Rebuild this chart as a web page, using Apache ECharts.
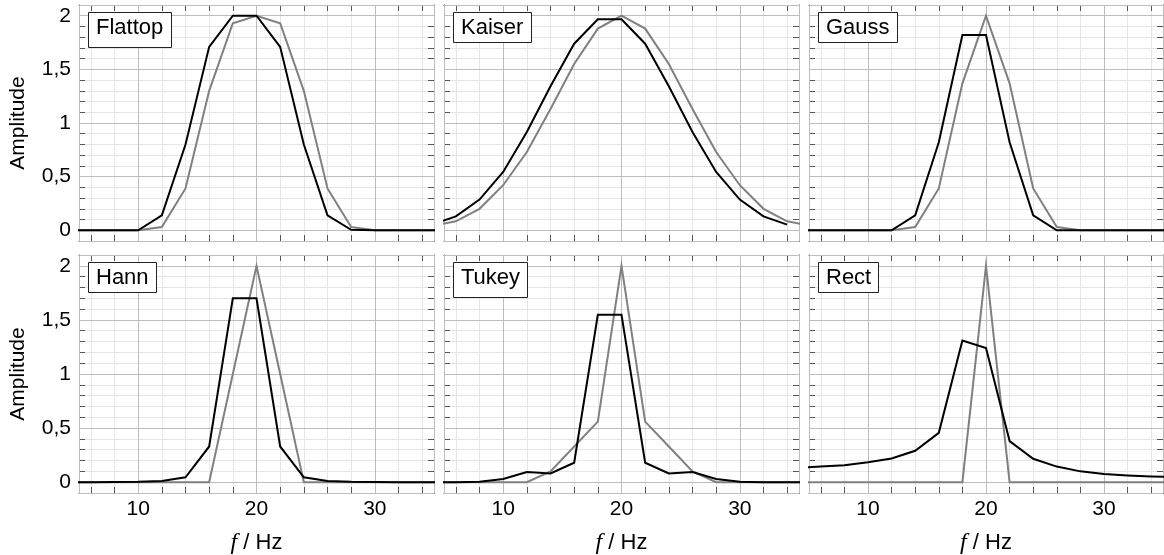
<!DOCTYPE html>
<html><head><meta charset="utf-8">
<script src="https://cdn.jsdelivr.net/npm/echarts@6/dist/echarts.min.js"></script>
<style>html,body{margin:0;padding:0;background:#fff}#c{width:1164px;height:555px}</style>
</head><body><div id="c"></div>
<script>
// frequency grid (Hz)
const freqs = [4, 6, 8, 10, 12, 14, 16, 18, 20, 22, 24, 26, 28, 30, 32, 34, 36];
const windowNames = ['Flattop', 'Kaiser', 'Gauss', 'Hann', 'Tukey', 'Rect'];

// black curves
const flattopBlack = [0, 0, 0, 0, 0.14, 0.80, 1.71, 2.0, 2.0, 1.71, 0.80, 0.14, 0.005, 0, 0, 0, 0];
const kaiserBlack  = [0.053, 0.13, 0.286, 0.543, 0.916, 1.342, 1.739, 1.966, 1.966, 1.739, 1.342, 0.916, 0.543, 0.286, 0.13, 0.053, null];
const gaussBlack   = [0, 0, 0, 0, 0, 0.14, 0.82, 1.82, 1.82, 0.82, 0.14, 0, 0, 0, 0, 0, 0];
const hannBlack    = [0, 0, 0.002, 0.004, 0.012, 0.045, 0.33, 1.70, 1.70, 0.33, 0.045, 0.012, 0.004, 0.002, 0, 0, 0];
const tukeyBlack   = [0, 0, 0.003, 0.03, 0.094, 0.08, 0.18, 1.547, 1.547, 0.18, 0.08, 0.094, 0.03, 0.003, 0, 0, 0];
const rectBlack    = [0.131, 0.144, 0.156, 0.184, 0.219, 0.29, 0.456, 1.31, 1.24, 0.38, 0.216, 0.144, 0.10, 0.075, 0.0625, 0.053, 0.047];

// gray curves
const flattopGray = [0, 0, 0, 0, 0.03, 0.39, 1.30, 1.93, 2.0, 1.93, 1.30, 0.39, 0.03, 0, 0, 0, 0];
const kaiserGray  = [0.04, 0.084, 0.2, 0.42, 0.73, 1.13, 1.55, 1.88, 2.0, 1.88, 1.55, 1.13, 0.73, 0.42, 0.2, 0.084, 0.04];
const gaussGray   = [0, 0, 0, 0, 0, 0.03, 0.39, 1.37, 2.0, 1.37, 0.39, 0.03, 0, 0, 0, 0, 0];
const hannGray    = [0, 0, 0, 0, 0, 0, 0, 1.0, 2.0, 1.0, 0, 0, 0, 0, 0, 0, 0];
const tukeyGray   = [0, 0, 0, 0, 0, 0.1, 0.33, 0.56, 2.0, 0.56, 0.33, 0.1, 0, 0, 0, 0, 0];
const rectGray    = [0, 0, 0, 0, 0, 0, 0, 0, 2.0, 0, 0, 0, 0, 0, 0, 0, 0];

// tick labels
const xTickValues = [10, 20, 30];
const xTickLabels = ['10', '20', '30'];
const yTickValues = [0, 0.5, 1, 1.5, 2];
const yTickLabels = ['0', '0,5', '1', '1,5', '2'];
const yAxisTitle = 'Amplitude';
const xAxisTitle = '{i|f} / Hz';

const blackSets = [flattopBlack, kaiserBlack, gaussBlack, hannBlack, tukeyBlack, rectBlack];
const graySets = [flattopGray, kaiserGray, gaussGray, hannGray, tukeyGray, rectGray];

const FONT = 'Liberation Sans';
const lefts = [79, 444, 809];
const widths = [355, 355, 354];
const tops = [5, 255];
const heights = [236, 238];
const minorC = '#e6e6e6';
const majorC = '#bdbdbd';
const frameLine = { show: true, onZero: false, lineStyle: { color: '#3c3c3c', width: 1 } };
const tickStyle = { show: true, inside: true, length: 6, lineStyle: { color: '#555', width: 1 } };

const grids = [], xAxes = [], yAxes = [], series = [], titles = [];
function pick(vals, labels, v) {
  for (let i = 0; i < vals.length; i++) if (Math.abs(vals[i] - v) < 1e-6) return labels[i];
  return '';
}
for (let k = 0; k < 6; k++) {
  const r = Math.floor(k / 3), c = k % 3;
  grids.push({ left: lefts[c], top: tops[r], width: widths[c], height: heights[r], containLabel: false, outerBoundsMode: 'none' });
  const xb = { gridIndex: k, type: 'value', min: 5, max: 35, splitNumber: 15, minInterval: 2, maxInterval: 2 };
  // main bottom x axis: minor grid, ticks, labels
  xAxes.push(Object.assign({}, xb, {
    position: 'bottom', axisLine: frameLine, axisTick: tickStyle,
    axisLabel: { show: r === 1, margin: 6, fontSize: 21, fontFamily: FONT, color: '#000',
      showMinLabel: true, showMaxLabel: true,
      formatter: v => pick(xTickValues, xTickLabels, v) },
    splitLine: { show: true, lineStyle: { color: minorC, width: 1 } },
    name: r === 1 ? xAxisTitle : '', nameLocation: 'middle', nameGap: 38,
    nameTextStyle: { fontSize: 22, fontFamily: FONT, color: '#000',
      rich: { i: { fontSize: 24, fontFamily: 'Liberation Serif', fontStyle: 'italic', color: '#000' } } }
  }));
  // top x axis: frame + ticks
  xAxes.push(Object.assign({}, xb, {
    position: 'top', axisLine: frameLine, axisTick: tickStyle,
    axisLabel: { show: false }, splitLine: { show: false }
  }));
  // major vertical grid
  xAxes.push({ gridIndex: k, type: 'value', min: 5, max: 35, minInterval: 10, maxInterval: 10, splitNumber: 3,
    position: 'bottom', z: 1, axisLine: { show: false }, axisTick: { show: false }, axisLabel: { show: false },
    splitLine: { show: true, lineStyle: { color: majorC, width: 1 } } });

  const yb = { gridIndex: k, type: 'value', min: -0.1, max: 2.1, interval: 0.1 };
  yAxes.push(Object.assign({}, yb, {
    position: 'left', axisLine: frameLine, axisTick: tickStyle,
    axisLabel: { show: c === 0, margin: 8, fontSize: 21, fontFamily: FONT, color: '#000',
      formatter: v => pick(yTickValues, yTickLabels, v) },
    splitLine: { show: true, lineStyle: { color: minorC, width: 1 } },
    name: c === 0 ? yAxisTitle : '', nameLocation: 'middle', nameGap: 50,
    nameTextStyle: { fontSize: 21, fontFamily: FONT, color: '#000' }
  }));
  yAxes.push(Object.assign({}, yb, {
    position: 'right', axisLine: frameLine, axisTick: tickStyle,
    axisLabel: { show: false }, splitLine: { show: false }
  }));
  yAxes.push({ gridIndex: k, type: 'value', min: -0.1, max: 2.1, minInterval: 0.5, maxInterval: 0.5, splitNumber: 4,
    position: 'left', z: 1, axisLine: { show: false }, axisTick: { show: false }, axisLabel: { show: false },
    splitLine: { show: true, lineStyle: { color: majorC, width: 1 } } });

  series.push({ type: 'line', xAxisIndex: 3 * k, yAxisIndex: 3 * k, symbol: 'none', silent: true, z: 3,
    lineStyle: { color: '#808080', width: 2, join: 'miter' },
    data: freqs.map((f, i) => [f, graySets[k][i]]) });
  series.push({ type: 'line', xAxisIndex: 3 * k, yAxisIndex: 3 * k, symbol: 'none', silent: true, z: 4,
    lineStyle: { color: '#000', width: 2, join: 'miter' },
    data: freqs.map((f, i) => [f, blackSets[k][i]]) });

  const desc = /[pyg]/.test(windowNames[k]);
  titles.push({ text: windowNames[k], left: lefts[c] + 9, top: tops[r] + 7,
    backgroundColor: '#fff', borderColor: '#222', borderWidth: 1,
    padding: desc ? [5, 8, 9, 8] : [5, 8, 4, 8], z: 10,
    textStyle: { fontSize: 22, fontWeight: 'normal', fontFamily: FONT, color: '#000', lineHeight: 22 } });
}

const chart = echarts.init(document.getElementById('c'), null, { renderer: 'canvas' });
chart.setOption({ animation: false, backgroundColor: '#fff', title: titles, grid: grids, xAxis: xAxes, yAxis: yAxes, series: series });
</script>
</body></html>
